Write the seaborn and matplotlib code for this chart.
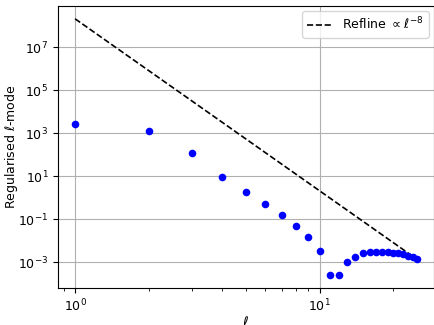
import numpy as np
import pandas as pd
import matplotlib
matplotlib.use("Agg")
import matplotlib.pyplot as plt
import seaborn as sns

ell = list(range(1, 26))
mode_values = [2600, 1230, 117, 9.3, 1.86, 0.51, 0.166, 0.051, 0.015, 0.0032,
               2.5e-4, 2.5e-4, 1.0e-3, 1.8e-3, 2.6e-3, 3.1e-3, 3.1e-3, 3.1e-3,
               3.0e-3, 2.7e-3, 2.6e-3, 2.3e-3, 1.95e-3, 1.7e-3, 1.4e-3]
ref_amplitude = 2.1e8
ref_power = -8

df = pd.DataFrame({"ell": ell, "mode": mode_values})
ref = pd.DataFrame({"ell": ell, "ref": [ref_amplitude * l ** ref_power for l in ell]})

plt.rcParams["font.size"] = 9
fig, ax = plt.subplots(figsize=(4.35, 3.25), dpi=100)
sns.lineplot(data=ref, x="ell", y="ref", ax=ax, color="black", linestyle="--",
             linewidth=1.2, label=r"Refline $\propto \ell^{-8}$")
sns.scatterplot(data=df, x="ell", y="mode", ax=ax, color="blue", s=30,
                linewidth=0, zorder=3)
ax.set_xscale("log")
ax.set_yscale("log")
ax.grid(True, color="#b0b0b0", linewidth=0.8)
ax.set_axisbelow(True)
ax.set_xlabel(r"$\ell$", fontsize=10)
ax.set_ylabel(r"Regularised $\ell$-mode", fontsize=9)
ax.yaxis.set_label_coords(-0.10, 0.5)
ax.xaxis.set_label_coords(0.5, -0.095)
ax.legend(loc="upper right", fontsize=9, borderaxespad=0.4)
fig.subplots_adjust(left=58/435, right=434/435, top=1-6/325, bottom=1-288/325)
fig.savefig("out.png", dpi=100)
